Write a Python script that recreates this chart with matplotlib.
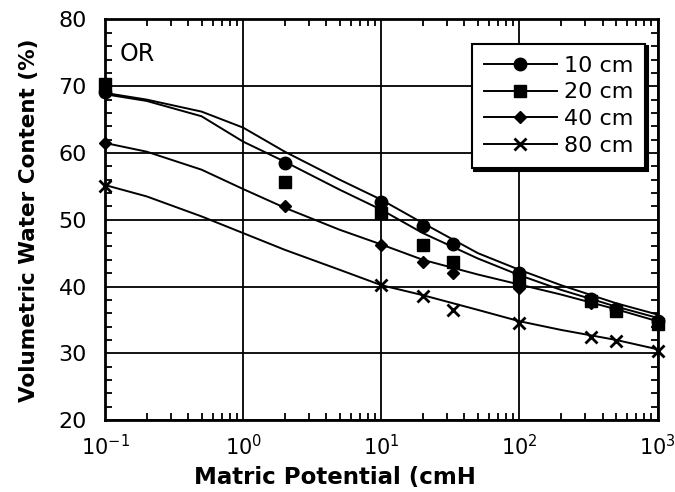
import numpy as np
import matplotlib
matplotlib.use("Agg")
import matplotlib.pyplot as plt
from matplotlib.lines import Line2D
from matplotlib.ticker import LogLocator, MultipleLocator

# measured points (matric potential, cm H2O)
x_pts = [0.1, 2, 10, 20, 33, 100, 330, 500, 1000]
x_pts_80 = [0.1, 10, 20, 33, 100, 330, 500, 1000]
wc_10 = [69.2, 58.5, 52.7, 49.0, 46.4, 42.0, 38.1, 36.6, 34.8]
wc_20 = [70.3, 55.6, 51.0, 46.2, 43.7, 41.0, 37.8, 36.4, 34.4]
wc_40 = [61.5, 52.1, 46.2, 43.6, 42.0, 39.8, 37.5, 36.3, 34.5]
wc_80 = [55.0, 40.3, 38.6, 36.5, 34.6, 32.5, 31.9, 30.3]

# fitted curves
x_fit = [0.1, 0.2, 0.5, 1, 2, 5, 10, 20, 50, 100, 200, 500, 1000]
fit_10 = [69.0, 68.0, 66.2, 63.8, 60.2, 56.0, 53.0, 49.5, 45.0, 42.5, 40.2, 37.5, 35.8]
fit_20 = [68.8, 67.8, 65.5, 61.7, 58.7, 54.5, 51.5, 48.0, 44.2, 41.7, 39.5, 37.0, 35.3]
fit_40 = [61.5, 60.2, 57.5, 54.6, 51.8, 48.5, 46.3, 44.0, 41.8, 40.3, 38.8, 36.6, 34.8]
fit_80 = [55.2, 53.5, 50.5, 48.0, 45.5, 42.5, 40.2, 38.7, 36.5, 34.8, 33.5, 32.0, 30.6]

labels = ["10 cm", "20 cm", "40 cm", "80 cm"]
markers = ["o", "s", "D", "x"]
msizes = [9, 9, 6, 9]

fig = plt.figure(figsize=(6.75, 4.92), dpi=100)
ax = fig.add_axes([0.1556, 0.1463, 0.8185, 0.8141])

fits = [fit_10, fit_20, fit_40, fit_80]
pts = [(x_pts, wc_10), (x_pts, wc_20), (x_pts, wc_40), (x_pts_80, wc_80)]
handles = []
for fit, (xp, yp), m, ms, lab in zip(fits, pts, markers, msizes, labels):
    ax.plot(x_fit, fit, color="black", lw=1.4, zorder=3)
    ax.plot(xp, yp, ls="none", marker=m, ms=ms, color="black",
            mew=2 if m == "x" else 1, clip_on=False, zorder=4)
    handles.append(Line2D([], [], color="black", lw=1.4, marker=m, ms=ms,
                          mew=2 if m == "x" else 1, label=lab))

ax.set_xscale("log")
ax.set_xlim(0.1, 1000)
ax.set_ylim(20, 80)
ax.yaxis.set_major_locator(MultipleLocator(10))
ax.yaxis.set_minor_locator(MultipleLocator(2))
ax.xaxis.set_minor_locator(LogLocator(base=10, subs=np.arange(2, 10)))
ax.grid(True, which="major", color="black", lw=1.3)
ax.tick_params(which="both", direction="in", top=True, right=True, width=1.3)
ax.tick_params(axis="y", which="major", length=0, pad=13, labelsize=16)
ax.tick_params(axis="x", which="major", length=0, pad=10, labelsize=15)
ax.tick_params(which="minor", length=5)
for s in ax.spines.values():
    s.set_linewidth(2)

fig.text(335 / 675, 3 / 492, "Matric Potential (cmH", fontsize=16.5,
         fontweight="bold", ha="center", va="bottom")
ax.set_ylabel("Volumetric Water Content (%)", fontsize=15.5, fontweight="bold",
              labelpad=14)
ax.text(0.027, 0.945, "OR", transform=ax.transAxes, fontsize=17, va="top")

leg = ax.legend(handles=handles, loc="upper right", bbox_to_anchor=(0.978, 0.94),
                borderaxespad=0, fontsize=16, handlelength=3.3,
                handletextpad=0.3, labelspacing=0.3, borderpad=0.55,
                fancybox=False, shadow={"color": "black", "alpha": 1.0},
                framealpha=1)
leg.get_frame().set_edgecolor("black")
leg.get_frame().set_linewidth(1.5)

fig.savefig("out.png", dpi=100)
